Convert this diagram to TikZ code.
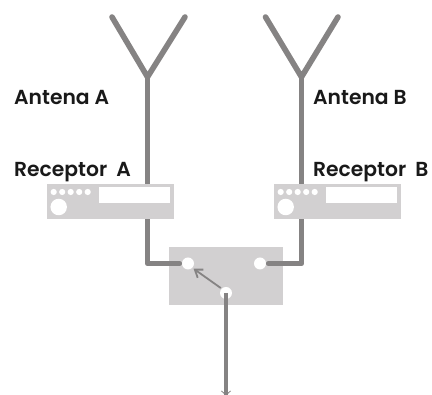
\documentclass[tikz,border=0pt]{standalone}
\usepackage{fontspec}
\setmainfont{Poppins}[BoldFont={Poppins SemiBold}]
\usetikzlibrary{arrows.meta}
\definecolor{wirec}{HTML}{858383}
\definecolor{boxc}{HTML}{D2D0D1}
\tikzset{
  wire/.style={draw=wirec,line width=5.6pt,line cap=round,line join=round},
  hole/.style={circle,fill=white,inner sep=0pt,minimum size=12pt},
  lbl/.style={anchor=base west,inner sep=0pt,font=\fontsize{20.3pt}{23pt}\selectfont\bfseries,text=black!90},
  unit/.style={fill=boxc,draw=none,inner sep=0pt,anchor=north west}
}
\begin{document}
\begin{tikzpicture}[x=1pt,y=-1pt]
\useasboundingbox (0,0) rectangle (432,395);
% antennas
\coordinate (a1) at (112,17); \coordinate (a2) at (185,17); \coordinate (aj) at (147.5,77);
\coordinate (b1) at (265.5,17); \coordinate (b2) at (338,17); \coordinate (bj) at (301.5,77);
\coordinate (ac) at (147.5,263.5); \coordinate (bc) at (301.5,263.5);
\coordinate (end) at (226,395);
% switch
\node[unit,minimum width=114pt,minimum height=58pt] (sw) at (169,247) {};
\node[hole] (p1) at (188,263.5) {};
\node[hole] (p2) at (260,263.5) {};
\node[hole] (p3) at (226,293) {};
\draw[wire] (a1) -- (aj) -- (a2);
\draw[wire] (b1) -- (bj) -- (b2);
\draw[wire,shorten >=2.5pt] (aj) -- (ac) -- (p1.west);
\draw[wire,shorten >=2.5pt] (bj) -- (bc) -- (p2.east);
\draw[wire,line width=4.5pt,line cap=butt] (p3.center) -- (end);
\draw[wirec,line width=1.8pt,shorten <=1pt,shorten >=1.5pt,-{Straight Barb[length=7pt,width=10pt]}] (p3.north west) -- (p1.south east);
\draw[wirec,line width=0.8pt] (221.5,391) -- (226,395) -- (230.5,391);
% receivers
\foreach \n/\dx in {A/0,B/227}{
  \begin{scope}[xshift=\dx pt]
    \node[unit,minimum width=127pt,minimum height=35pt] (r\n) at (47,184) {};
    \node[unit,fill=white,minimum width=71pt,minimum height=16pt] (d\n) at (99,187) {};
    \foreach \i/\x in {1/53.7,2/62.2,3/70.7,4/79.2,5/87.7}
      \node[hole,minimum size=6.2pt] (l\n\i) at (\x,192) {};
    \node[hole,minimum size=16.5pt] (k\n) at (58.7,207) {};
  \end{scope}
}
% labels
\node[lbl] (la) at (14,105) {Antena A};
\node[lbl] (lb) at (313,105) {Antena B};
\node[lbl] (ra) at (14,177) {Receptor\;\,A};
\node[lbl] (rb) at (313,177) {Receptor\;\,B};
\end{tikzpicture}
\end{document}
